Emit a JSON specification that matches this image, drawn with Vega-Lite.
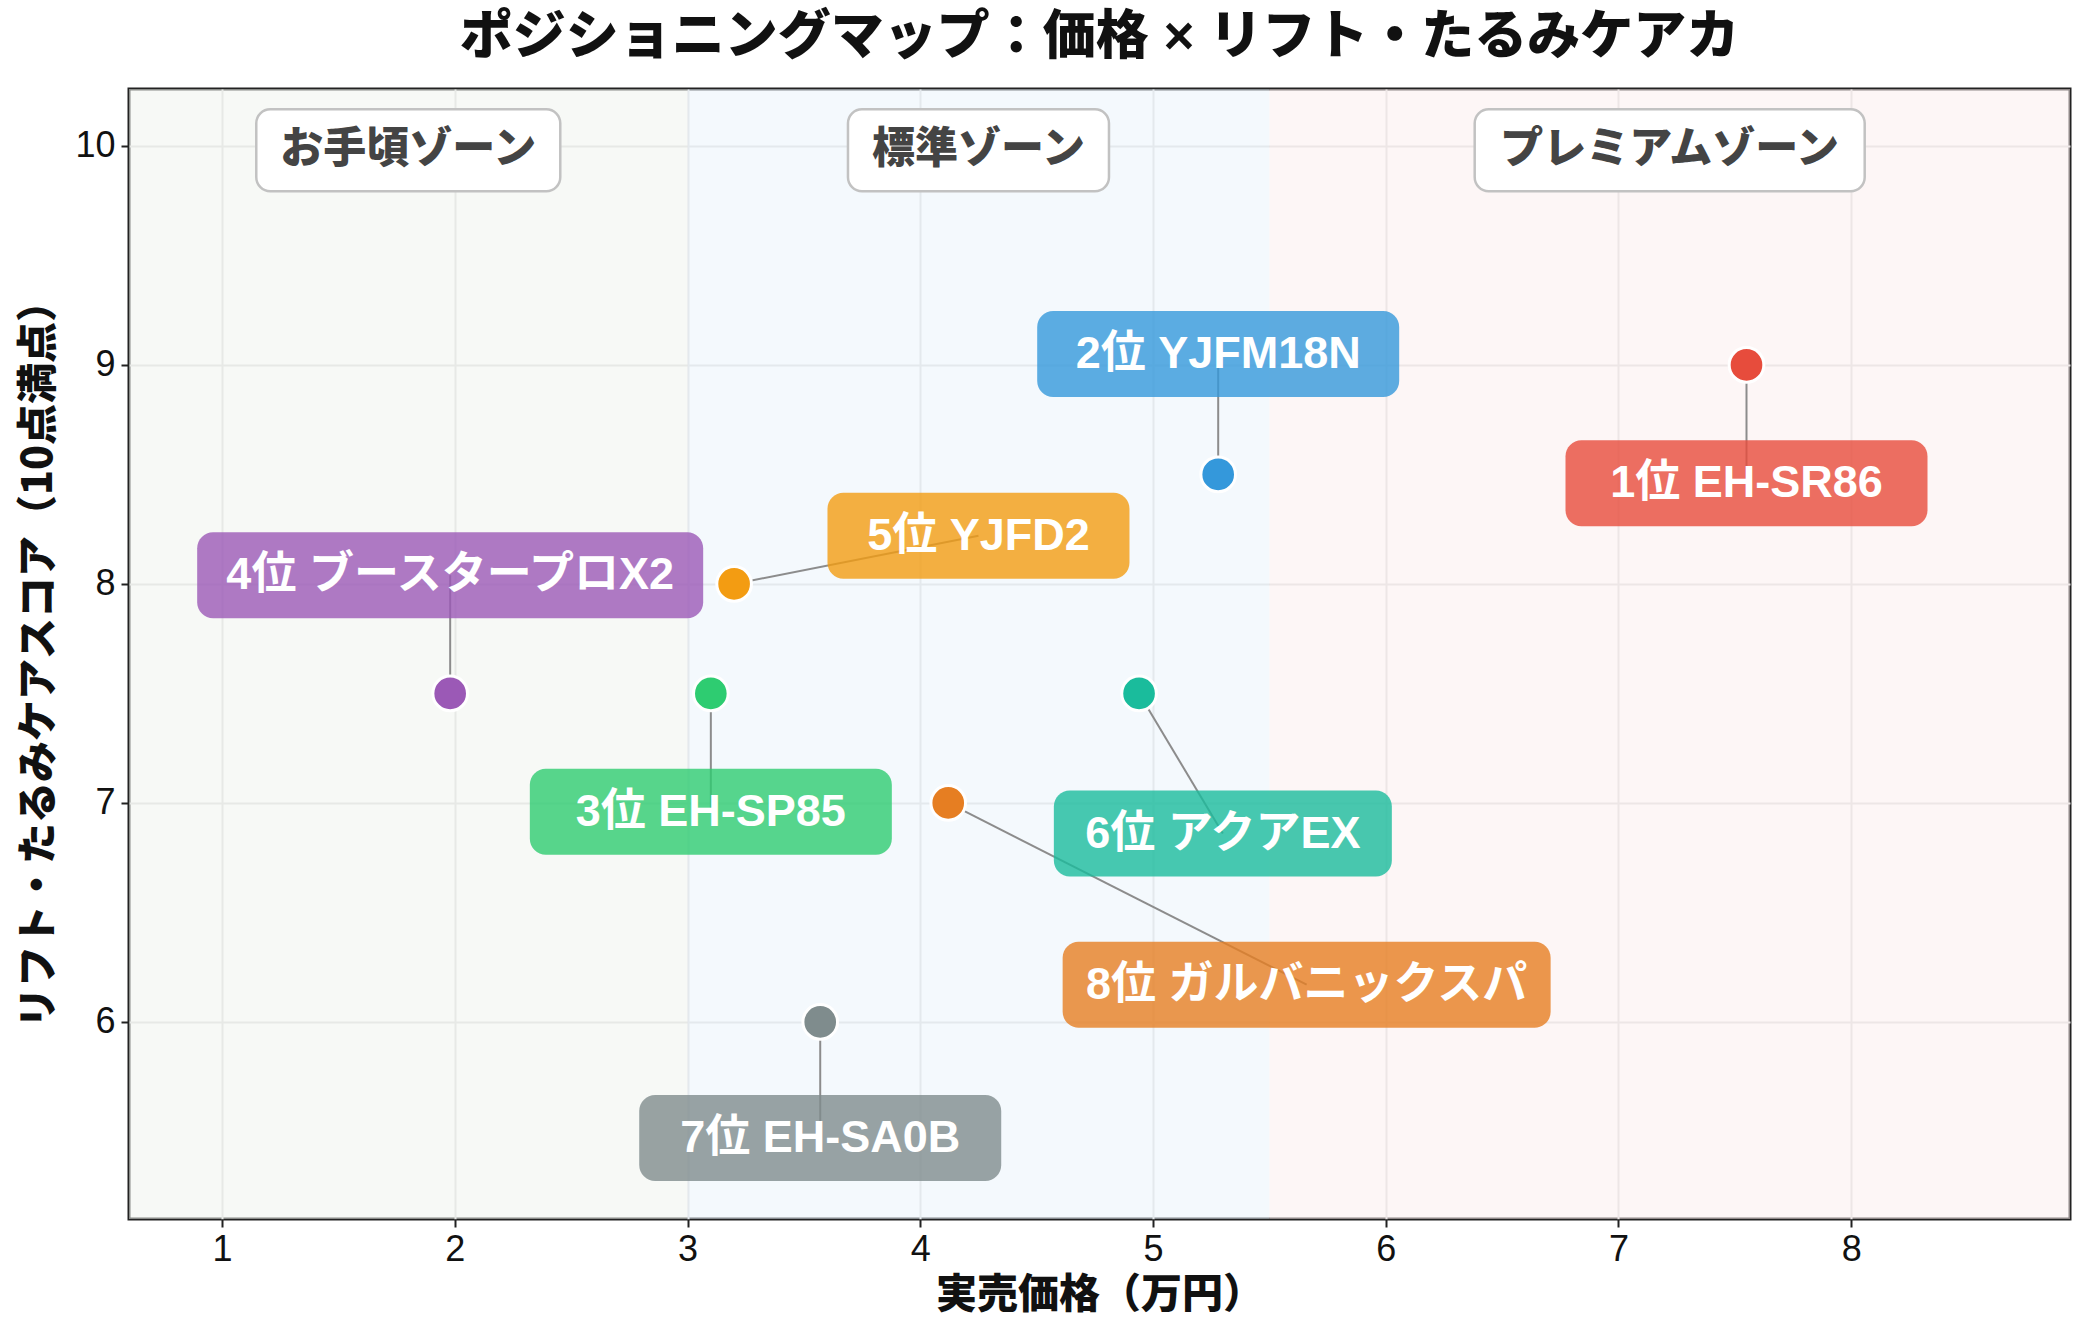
{
  "$schema": "https://vega.github.io/schema/vega-lite/v6.json",
  "autosize": {"type": "none"},
  "padding": {"left": 129, "top": 89, "right": 14, "bottom": 115},
  "width": 1941,
  "height": 1130,
  "background": "white",
  "title": {
    "text": "ポジショニングマップ：価格 × リフト・たるみケアカ",
    "font": "Liberation Sans, Noto Sans CJK JP",
    "fontSize": 53,
    "fontWeight": 900,
    "color": "#111111",
    "anchor": "middle",
    "baseline": "middle",
    "offset": -2
  },
  "config": {
    "view": {"stroke": "#222222", "strokeWidth": 3},
    "axis": {
      "labelFont": "Liberation Sans",
      "titleFont": "Noto Sans CJK JP",
      "labelFontSize": 36,
      "labelColor": "#111111",
      "titleFontSize": 41,
      "titleFontWeight": 900,
      "titleColor": "#111111",
      "domain": false,
      "grid": true,
      "gridColor": "#dedede",
      "gridWidth": 2,
      "tickColor": "#222222",
      "tickSize": 8,
      "tickWidth": 2,
      "format": "d"
    }
  },
  "datasets": {
    "zones": [
      {"zone": "お手頃ゾーン", "x0": 0.6, "x1": 3.0, "xc": 1.8, "yl": 9.98},
      {"zone": "標準ゾーン", "x0": 3.0, "x1": 5.5, "xc": 4.25, "yl": 9.98},
      {"zone": "プレミアムゾーン", "x0": 5.5, "x1": 8.94, "xc": 7.22, "yl": 9.98}
    ],
    "products": [
      {"label": "1位 EH-SR86", "price": 7.55, "score": 9.0, "lx": 7.55, "ly": 8.46},
      {"label": "2位 YJFM18N", "price": 5.28, "score": 8.5, "lx": 5.28, "ly": 9.05},
      {"label": "3位 EH-SP85", "price": 3.10, "score": 7.5, "lx": 3.10, "ly": 6.96},
      {"label": "4位 ブースタープロX2", "price": 1.98, "score": 7.5, "lx": 1.98, "ly": 8.04},
      {"label": "5位 YJFD2", "price": 3.20, "score": 8.0, "lx": 4.25, "ly": 8.22},
      {"label": "6位 アクアEX", "price": 4.94, "score": 7.5, "lx": 5.30, "ly": 6.86},
      {"label": "7位 EH-SA0B", "price": 3.57, "score": 6.0, "lx": 3.57, "ly": 5.47},
      {"label": "8位 ガルバニックスパ", "price": 4.12, "score": 7.0, "lx": 5.66, "ly": 6.17}
    ]
  },
  "resolve": {"scale": {"color": "independent"}},
  "layer": [
    {
      "data": {"name": "zones"},
      "mark": {"type": "rect", "opacity": 0.5},
      "encoding": {
        "x": {"field": "x0", "type": "quantitative", "scale": {"domain": [0.6, 8.94], "nice": false, "zero": false},
              "axis": {"values": [1, 2, 3, 4, 5, 6, 7, 8], "title": "実売価格（万円）", "titlePadding": 8, "labelPadding": 5}},
        "x2": {"field": "x1"},
        "color": {"field": "zone", "type": "nominal", "legend": null,
                  "scale": {"domain": ["お手頃ゾーン", "標準ゾーン", "プレミアムゾーン"], "range": ["#eff3ed", "#e9f3fb", "#fbeded"]}}
      }
    },
    {
      "data": {"name": "zones"},
      "mark": {"type": "rect", "fill": "white", "stroke": "#c2c2c2", "strokeWidth": 2.5, "cornerRadius": 14,
               "width": {"expr": "43*length(replace(datum.zone, regexp('[ -~]','g'), '')) + 30*length(replace(datum.zone, regexp('[^ -~]','g'), '')) + 46"},
               "height": 82},
      "encoding": {
        "x": {"field": "xc", "type": "quantitative"},
        "y": {"field": "yl", "type": "quantitative"}
      }
    },
    {
      "data": {"name": "zones"},
      "mark": {"type": "text", "font": "Noto Sans CJK JP", "fontSize": 43, "fontWeight": 900, "color": "#444444", "align": "center", "baseline": "middle"},
      "encoding": {
        "x": {"field": "xc", "type": "quantitative"},
        "y": {"field": "yl", "type": "quantitative"},
        "text": {"field": "zone"}
      }
    },
    {
      "data": {"name": "products"},
      "mark": {"type": "rule", "color": "#8c8c8c", "strokeWidth": 2},
      "encoding": {
        "x": {"field": "price", "type": "quantitative"},
        "y": {"field": "score", "type": "quantitative"},
        "x2": {"field": "lx"},
        "y2": {"field": "ly"}
      }
    },
    {
      "data": {"name": "products"},
      "mark": {"type": "rect", "opacity": 0.8, "cornerRadius": 16,
               "width": {"expr": "42*length(replace(datum.label, regexp('[ -~]','g'), '')) + 30*length(replace(datum.label, regexp('[^ -~]','g'), '')) + 50"},
               "height": 86},
      "encoding": {
        "x": {"field": "lx", "type": "quantitative"},
        "y": {"field": "ly", "type": "quantitative"},
        "color": {"field": "label", "type": "nominal", "legend": null,
                  "scale": {"domain": ["1位 EH-SR86", "2位 YJFM18N", "3位 EH-SP85", "4位 ブースタープロX2", "5位 YJFD2", "6位 アクアEX", "7位 EH-SA0B", "8位 ガルバニックスパ"],
                            "range": ["#e74c3c", "#3498db", "#2ecc71", "#9b59b6", "#f39c12", "#1abc9c", "#7f8c8d", "#e67e22"]}}
      }
    },
    {
      "data": {"name": "products"},
      "mark": {"type": "point", "shape": "circle", "filled": true, "size": 1200, "stroke": "white", "strokeWidth": 3, "opacity": 1},
      "encoding": {
        "x": {"field": "price", "type": "quantitative"},
        "y": {"field": "score", "type": "quantitative", "scale": {"domain": [5.1, 10.26], "nice": false, "zero": false},
              "axis": {"values": [6, 7, 8, 9, 10], "title": "リフト・たるみケアスコア（10点満点）", "titlePadding": 14, "labelPadding": 6}},
        "fill": {"field": "label", "type": "nominal", "legend": null,
                 "scale": {"domain": ["1位 EH-SR86", "2位 YJFM18N", "3位 EH-SP85", "4位 ブースタープロX2", "5位 YJFD2", "6位 アクアEX", "7位 EH-SA0B", "8位 ガルバニックスパ"],
                           "range": ["#e74c3c", "#3498db", "#2ecc71", "#9b59b6", "#f39c12", "#1abc9c", "#7f8c8d", "#e67e22"]}}
      }
    },
    {
      "data": {"name": "products"},
      "mark": {"type": "text", "font": "Liberation Sans, Noto Sans CJK JP", "fontSize": 45, "fontWeight": "bold", "color": "white", "align": "center", "baseline": "middle"},
      "encoding": {
        "x": {"field": "lx", "type": "quantitative"},
        "y": {"field": "ly", "type": "quantitative"},
        "text": {"field": "label"}
      }
    }
  ]
}
